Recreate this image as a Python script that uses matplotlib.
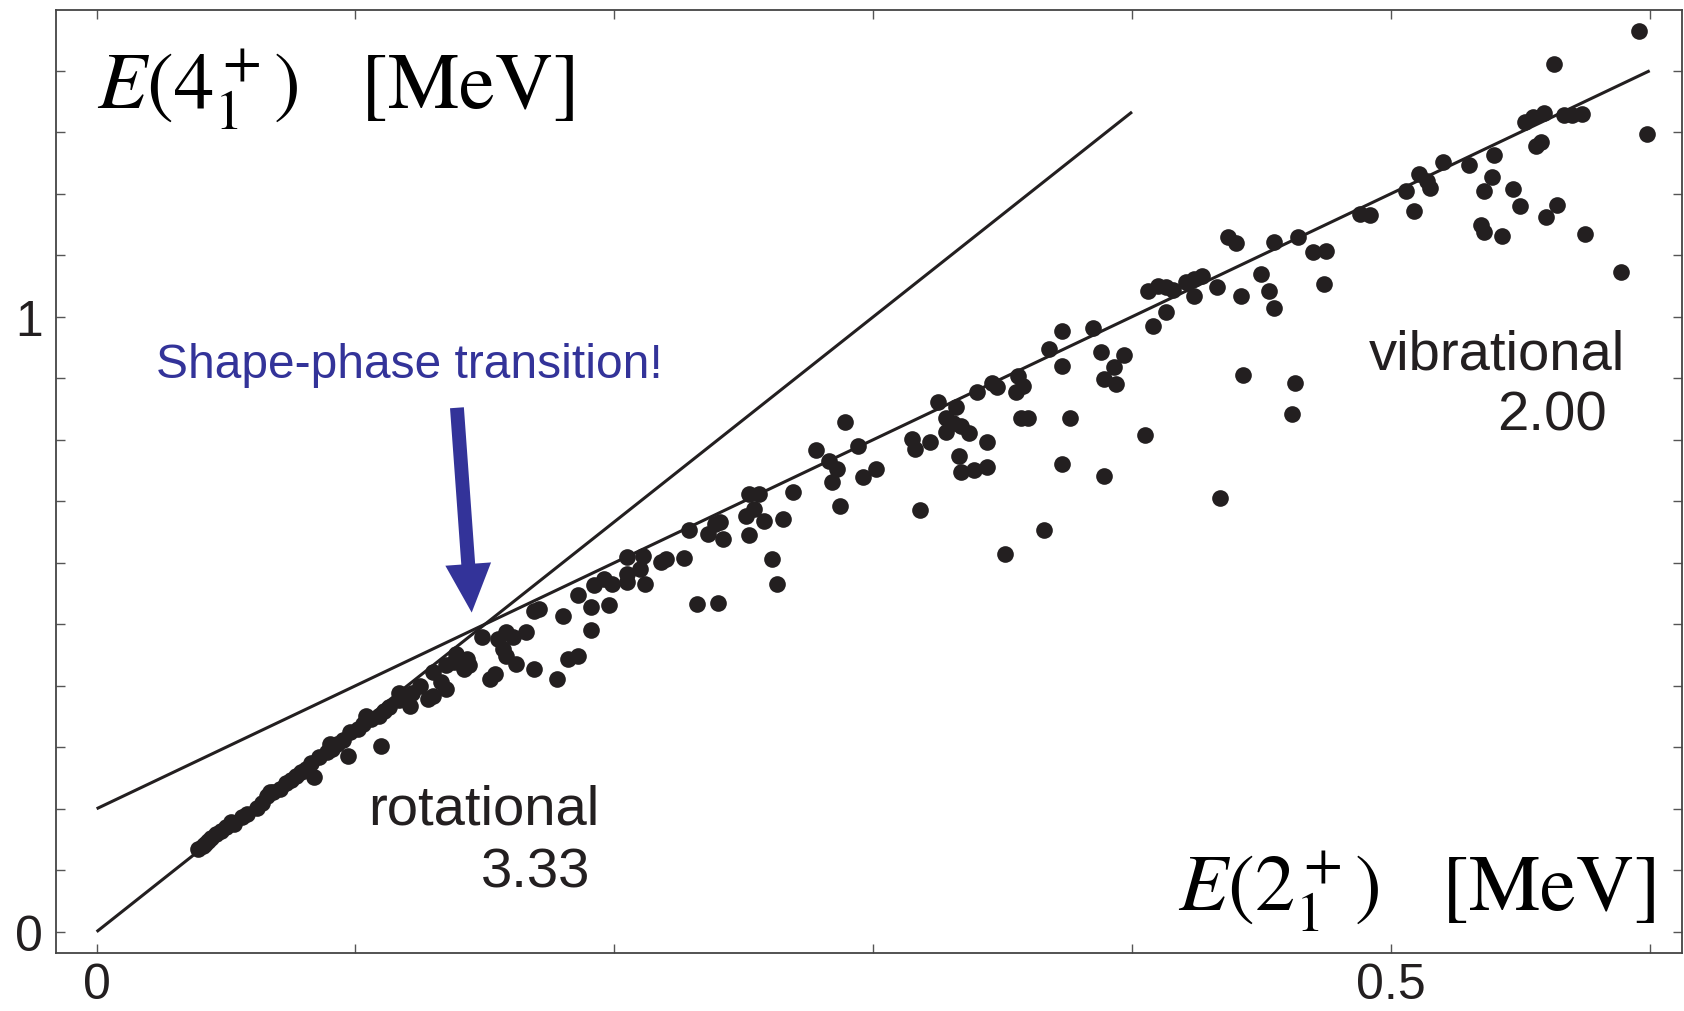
import matplotlib
matplotlib.use('Agg')
import matplotlib.pyplot as plt

plt.rcParams['font.family'] = ['Liberation Sans', 'DejaVu Sans']
plt.rcParams['mathtext.fontset'] = 'stix'

# ---- data: E(2+_1) [MeV] and E(4+_1) [MeV] of nuclei ----
vib_e2 = [0.596, 0.563, 0.599, 0.552, 0.555, 0.559, 0.567, 0.570, 0.574, 0.556,
          0.558, 0.540, 0.530, 0.520, 0.511, 0.515, 0.506, 0.509, 0.539, 0.536,
          0.547, 0.550, 0.560, 0.564, 0.535, 0.536, 0.543, 0.575, 0.589, 0.514,
          0.488, 0.492, 0.464, 0.455, 0.437, 0.440, 0.470, 0.475, 0.474, 0.424,
          0.427, 0.421, 0.410, 0.413, 0.416, 0.424, 0.433, 0.442, 0.450, 0.453,
          0.455, 0.413, 0.408, 0.443, 0.463, 0.462, 0.406, 0.434, 0.405]
vib_e4 = [1.464, 1.411, 1.297, 1.316, 1.324, 1.332, 1.328, 1.328, 1.330, 1.278,
          1.284, 1.263, 1.247, 1.251, 1.232, 1.210, 1.205, 1.172, 1.227, 1.205,
          1.207, 1.180, 1.162, 1.182, 1.149, 1.138, 1.131, 1.134, 1.072, 1.221,
          1.167, 1.165, 1.129, 1.121, 1.129, 1.120, 1.105, 1.107, 1.053, 1.061,
          1.067, 1.056, 1.050, 1.049, 1.044, 1.034, 1.048, 1.033, 1.069, 1.042,
          1.014, 1.007, 0.985, 0.905, 0.892, 0.842, 1.042, 0.706, 0.808]

mid_e2 = [0.385, 0.373, 0.368, 0.373, 0.388, 0.397, 0.393, 0.389, 0.394, 0.357,
          0.360, 0.376, 0.373, 0.389, 0.366, 0.351, 0.318, 0.356, 0.358, 0.355,
          0.346, 0.348, 0.340, 0.325, 0.332, 0.328, 0.331, 0.328, 0.337, 0.334,
          0.344, 0.315, 0.316, 0.322, 0.333, 0.334, 0.339, 0.344, 0.289, 0.294,
          0.278, 0.283, 0.286, 0.284, 0.296, 0.301, 0.287, 0.261, 0.269, 0.252,
          0.256, 0.254, 0.251, 0.258, 0.265, 0.252, 0.241, 0.239, 0.236, 0.242,
          0.229, 0.263, 0.232, 0.240]
mid_e4 = [0.982, 0.977, 0.947, 0.920, 0.942, 0.938, 0.918, 0.899, 0.891, 0.835,
          0.835, 0.835, 0.760, 0.741, 0.654, 0.614, 0.685, 0.904, 0.888, 0.877,
          0.893, 0.885, 0.878, 0.861, 0.853, 0.836, 0.828, 0.813, 0.811, 0.823,
          0.797, 0.801, 0.785, 0.797, 0.774, 0.748, 0.750, 0.755, 0.829, 0.789,
          0.783, 0.766, 0.752, 0.731, 0.740, 0.752, 0.692, 0.606, 0.715, 0.712,
          0.712, 0.687, 0.676, 0.668, 0.671, 0.645, 0.666, 0.663, 0.646, 0.639,
          0.653, 0.565, 0.533, 0.534]

trans_e2 = [0.205, 0.211, 0.218, 0.220, 0.227, 0.205, 0.210, 0.205, 0.212, 0.192,
            0.196, 0.199, 0.186, 0.191, 0.198, 0.180, 0.169, 0.171, 0.191, 0.182,
            0.186, 0.178, 0.169, 0.166, 0.149, 0.158, 0.155, 0.161, 0.157, 0.158,
            0.162, 0.154, 0.152, 0.139, 0.143, 0.144, 0.142, 0.138, 0.135, 0.130,
            0.133, 0.135, 0.130, 0.128, 0.125, 0.122, 0.121, 0.117]
trans_e4 = [0.609, 0.611, 0.601, 0.606, 0.607, 0.582, 0.590, 0.568, 0.565, 0.564,
            0.573, 0.565, 0.547, 0.528, 0.531, 0.514, 0.522, 0.525, 0.491, 0.443,
            0.449, 0.411, 0.428, 0.488, 0.479, 0.487, 0.476, 0.479, 0.460, 0.449,
            0.436, 0.419, 0.411, 0.452, 0.443, 0.433, 0.427, 0.438, 0.433, 0.422,
            0.406, 0.395, 0.384, 0.378, 0.400, 0.389, 0.367, 0.389]

rot_e2 = [0.113, 0.111, 0.109, 0.106, 0.103, 0.101, 0.098, 0.095, 0.093, 0.091,
          0.089, 0.086, 0.083, 0.081, 0.079, 0.077, 0.075, 0.073, 0.071, 0.068,
          0.066, 0.064, 0.062, 0.058, 0.056, 0.053, 0.050, 0.048, 0.046, 0.044,
          0.043, 0.041, 0.110, 0.097, 0.084, 0.118, 0.117, 0.104, 0.090, 0.067,
          0.052, 0.039, 0.042]
rot_e4 = [0.365, 0.359, 0.351, 0.346, 0.338, 0.330, 0.324, 0.311, 0.305, 0.297,
          0.292, 0.284, 0.274, 0.265, 0.259, 0.254, 0.246, 0.242, 0.232, 0.227,
          0.220, 0.210, 0.202, 0.191, 0.186, 0.175, 0.170, 0.164, 0.159, 0.153,
          0.148, 0.140, 0.302, 0.285, 0.251, 0.378, 0.376, 0.351, 0.305, 0.227,
          0.178, 0.134, 0.143]

# limiting lines: rotational R=3.33, vibrational E4 = 2 E2 + offset
rot_line_x = [0.0, 0.4]
rot_line_y = [0.0, 1.333]
vib_line_x = [0.0, 0.6]
vib_line_y = [0.2, 1.4]

x_ticks = [0.0, 0.1, 0.2, 0.3, 0.4, 0.5, 0.6]
x_tick_labels = ['0', '', '', '', '', '0.5', '']
y_ticks = [0.0, 0.1, 0.2, 0.3, 0.4, 0.5, 0.6, 0.7, 0.8, 0.9, 1.0, 1.1, 1.2, 1.3, 1.4]
y_tick_labels = ['0', '', '', '', '', '', '', '', '', '', '1', '', '', '', '']

INK = '#231f20'
BLUE = '#333399'

fig = plt.figure(figsize=(16.84, 10.12), dpi=100)
ax = fig.add_axes([0.0331, 0.0576, 0.9659, 0.9315])
ax.set_xlim(-0.0158, 0.6126)
ax.set_ylim(-0.0341, 1.4987)

ax.plot(rot_line_x, rot_line_y, color=INK, lw=2.2, solid_capstyle='butt', zorder=2)
ax.plot(vib_line_x, vib_line_y, color=INK, lw=2.2, solid_capstyle='butt', zorder=2)

all_e2 = vib_e2 + mid_e2 + trans_e2 + rot_e2
all_e4 = vib_e4 + mid_e4 + trans_e4 + rot_e4
ax.plot(all_e2, all_e4, 'o', ms=12, color=INK, mew=0, zorder=3)

ax.set_xticks(x_ticks)
ax.set_xticklabels(x_tick_labels)
ax.set_yticks(y_ticks)
ax.set_yticklabels(y_tick_labels)
ax.tick_params(direction='in', top=True, right=True, length=6.5, width=1.0,
               color='#555555', labelsize=36, labelcolor=INK)
ax.tick_params(axis='x', pad=7)
ax.tick_params(axis='y', pad=9)
for s in ax.spines.values():
    s.set_color('#444444')
    s.set_linewidth(1.3)

ax.text(0.0, 1.341, r'$E(4_1^+)$   [MeV]', fontsize=58, family='STIXGeneral',
        color='black', va='baseline', ha='left')
ax.text(0.602, 0.037, r'$E(2_1^+)$   [MeV]', fontsize=58, family='STIXGeneral',
        color='black', va='baseline', ha='right')

ax.text(0.0228, 0.902, 'Shape-phase transition!', fontsize=34.5, color=BLUE,
        va='baseline', ha='left')
ax.text(0.105, 0.1754, 'rotational', fontsize=40.5, color=INK, va='baseline', ha='left')
ax.text(0.1485, 0.0743, '3.33', fontsize=40.5, color=INK, va='baseline', ha='left')
ax.text(0.4913, 0.916, 'vibrational', fontsize=40.5, color=INK, va='baseline', ha='left')
ax.text(0.541, 0.817, '2.00', fontsize=40.5, color=INK, va='baseline', ha='left')

ax.annotate('', xy=(0.1449, 0.519), xytext=(0.1392, 0.852),
            arrowprops=dict(arrowstyle='simple,head_length=3.5,head_width=3.3,tail_width=1.0',
                            mutation_scale=10, color=BLUE, lw=0,
                            shrinkA=0, shrinkB=0))

fig.savefig('out.png', dpi=100)
